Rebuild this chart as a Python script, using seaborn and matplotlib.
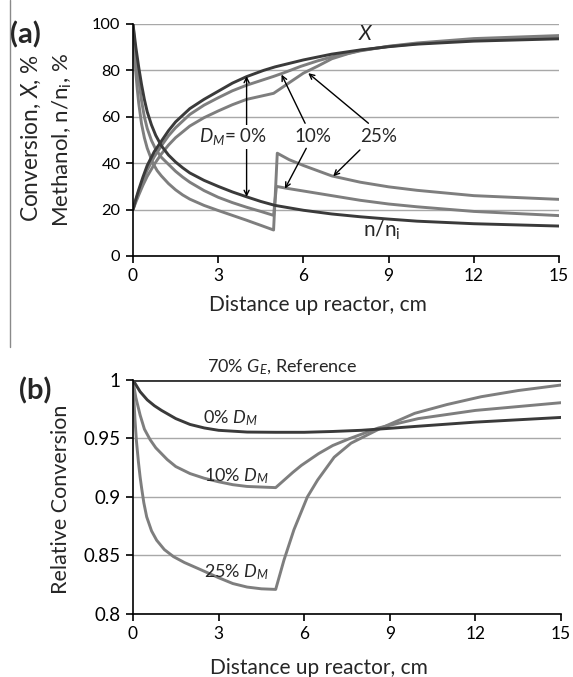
import numpy as np
import pandas as pd
import matplotlib
matplotlib.use("Agg")
import matplotlib.pyplot as plt
import seaborn as sns
from matplotlib.lines import Line2D

# ---------------- data: panel (a) ----------------
# Conversion X, %
x_X0 = [0, 0.1, 0.2, 0.35, 0.5, 0.75, 1, 1.25, 1.5, 2, 2.5, 3, 3.5, 4, 4.6, 5, 6, 7, 8, 9, 10, 12, 15]
X0 = [20, 24.5, 28.5, 34, 39, 45, 49.5, 54, 57.8, 63.5, 67.5, 71, 74.5, 77.3, 80, 81.5, 84.5, 87, 88.8, 90.2, 91.3, 92.6, 93.6]
x_X10 = [0, 0.1, 0.2, 0.35, 0.5, 0.75, 1, 1.25, 1.5, 2, 2.5, 3, 3.5, 4, 4.95, 5.3, 5.9, 6.5, 7, 7.6, 8, 9, 10, 12, 15]
X10 = [20, 24, 27.8, 32.5, 37, 42.8, 47.5, 51.8, 55.3, 61, 65, 68.2, 71.2, 73.6, 77.4, 78.9, 81.7, 84.1, 85.8, 87.4, 88.6, 90.3, 91.5, 93.2, 94.4]
x_X25 = [0, 0.1, 0.2, 0.35, 0.5, 0.75, 1, 1.25, 1.5, 2, 2.5, 3, 3.5, 4, 4.95, 5.3, 5.6, 6, 6.5, 7, 7.6, 8, 9, 10, 12, 15]
X25 = [20, 23.2, 26.2, 30.5, 34.3, 39.5, 44, 47.8, 51, 56, 59.6, 62.5, 65.2, 67.5, 70.1, 73, 75.5, 78.8, 81.8, 85, 87.3, 88.4, 90.4, 91.8, 93.7, 95.0]
# Methanol n/ni, %
x_n0 = [0, 0.05, 0.1, 0.2, 0.3, 0.4, 0.5, 0.65, 0.8, 1, 1.25, 1.5, 1.75, 2, 2.5, 3, 3.5, 4, 4.5, 5, 6, 7, 8, 9, 10, 12, 15]
n0 = [100, 95, 90, 81.5, 74, 67.5, 62.2, 56.5, 52, 47.5, 43.5, 40.5, 38, 35.8, 32.6, 30, 27.6, 25.5, 23.5, 21.8, 19.7, 18.1, 16.9, 15.9, 15, 13.9, 12.9]
x_n10 = [0, 0.05, 0.1, 0.2, 0.3, 0.4, 0.5, 0.65, 0.8, 1, 1.25, 1.5, 1.75, 2, 2.5, 3, 3.5, 4, 4.5, 4.95, 5.05, 5.4, 6, 7, 8, 9, 10, 12, 15]
n10 = [100, 93, 87, 76, 67, 60, 55, 49.8, 46, 42.5, 39.5, 36.5, 34, 31.8, 28.2, 25.3, 23, 21, 19.2, 17.5, 30, 29.2, 28, 26, 24, 22.4, 21.2, 19.2, 17.4]
x_n25 = [0, 0.05, 0.1, 0.15, 0.2, 0.3, 0.4, 0.5, 0.7, 0.85, 1, 1.25, 1.5, 1.75, 2, 2.5, 3, 3.5, 4, 4.5, 4.95, 5.08, 5.5, 6, 7, 8, 9, 10, 12, 15]
n25 = [100, 88, 79, 72, 66, 57, 51, 46.5, 40, 36.8, 34.5, 31.2, 28.5, 26.3, 24.5, 21.8, 19.6, 17.5, 15.4, 13.2, 11.2, 44.3, 41.5, 39, 34.5, 31.8, 29.8, 28.3, 26, 24.4]

# ---------------- data: panel (b) ----------------
x_ref = [0, 15]
rel_ref = [1, 1]
x_r0 = [0, 0.1, 0.25, 0.5, 0.75, 1, 1.5, 2, 2.5, 3, 4, 5, 6, 7, 8, 9, 10, 12, 15]
rel0 = [1, 0.996, 0.99, 0.983, 0.978, 0.974, 0.967, 0.962, 0.959, 0.957, 0.9555, 0.9553, 0.9553, 0.956, 0.957, 0.9587, 0.9605, 0.964, 0.968]
x_r10 = [0, 0.05, 0.1, 0.25, 0.4, 0.6, 0.8, 1, 1.2, 1.5, 2, 2.5, 3, 3.5, 4, 5, 5.3, 5.6, 5.9, 6.5, 7, 7.6, 8.6, 10, 12, 15]
rel10 = [1, 0.992, 0.985, 0.97, 0.958, 0.949, 0.942, 0.937, 0.932, 0.926, 0.92, 0.916, 0.913, 0.9105, 0.909, 0.908, 0.9145, 0.921, 0.927, 0.937, 0.944, 0.950, 0.959, 0.967, 0.974, 0.9806]
x_r25 = [0, 0.03, 0.07, 0.12, 0.19, 0.25, 0.3, 0.38, 0.48, 0.65, 0.83, 1.1, 1.42, 1.8, 2.36, 3, 3.5, 4, 4.5, 5, 5.29, 5.64, 6.11, 6.47, 7.05, 7.64, 8.7, 9.87, 11, 12.2, 13.5, 15]
rel25 = [1, 0.984, 0.966, 0.948, 0.93, 0.917, 0.908, 0.895, 0.883, 0.871, 0.863, 0.855, 0.849, 0.844, 0.838, 0.831, 0.826, 0.823, 0.8215, 0.821, 0.846, 0.872, 0.900, 0.9145, 0.934, 0.946, 0.959, 0.9715, 0.979, 0.9857, 0.991, 0.9957]

xticks = [0, 3, 6, 9, 12, 15]
yticks_a = [0, 20, 40, 60, 80, 100]
yticks_b = [0.8, 0.85, 0.9, 0.95, 1.0]
yticklabels_b = ["0.8", "0.85", "0.9", "0.95", "1"]

DARK = "#3a3a3a"
GRAY = "#7e7e7e"

sns.set_theme(style="white")
plt.rcParams["font.family"] = ["Lato", "DejaVu Sans"]
plt.rcParams["mathtext.fontset"] = "custom"
plt.rcParams["mathtext.rm"] = "Lato"
plt.rcParams["mathtext.it"] = "Lato:italic"

fig = plt.figure(figsize=(5.73, 6.77), dpi=100)
axA = fig.add_axes([0.2321, 0.6219, 0.7435, 0.3427])
axB = fig.add_axes([0.2321, 0.0931, 0.747, 0.3456])


def frame(df_list):
    return pd.concat([pd.DataFrame({"x": x, "y": y, "s": s}) for x, y, s in df_list], ignore_index=True)


dfa = frame([
    (x_n25, n25, "n25"), (x_n10, n10, "n10"), (x_X25, X25, "X25"), (x_X10, X10, "X10"),
    (x_n0, n0, "n0"), (x_X0, X0, "X0"),
])
pal_a = {"n25": GRAY, "n10": GRAY, "X25": GRAY, "X10": GRAY, "n0": DARK, "X0": DARK}
sns.lineplot(data=dfa, x="x", y="y", hue="s", units="s", palette=pal_a, estimator=None,
             sort=False, legend=False, lw=2.1, ax=axA)

dfb = frame([(x_r25, rel25, "r25"), (x_r10, rel10, "r10"), (x_r0, rel0, "r0"), (x_ref, rel_ref, "ref")])
pal_b = {"r25": GRAY, "r10": GRAY, "r0": DARK, "ref": DARK}
sns.lineplot(data=dfb, x="x", y="y", hue="s", units="s", palette=pal_b, estimator=None,
             sort=False, legend=False, lw=2.1, ax=axB)
for ln in axA.lines + axB.lines:
    ln.set_solid_joinstyle("round")

for ax in (axA, axB):
    ax.set_xlim(0, 15)
    ax.set_xticks(xticks)
    ax.set_xlabel("")
    ax.set_ylabel("")
    ax.grid(axis="y", color="#a8a8a8", lw=1.0)
    ax.grid(axis="x", visible=False)
    ax.set_axisbelow(True)
    for s in ("top", "right"):
        ax.spines[s].set_visible(False)
    for s in ("left", "bottom"):
        ax.spines[s].set_color("black")
        ax.spines[s].set_linewidth(1.2)
    ax.tick_params(bottom=True, left=True, direction="out", length=5, width=1.2,
                   color="black", labelcolor="black", pad=4)
    ax.tick_params(axis="x", labelsize=12.5)

axA.set_ylim(0, 100)
axA.set_yticks(yticks_a)
axA.tick_params(axis="y", labelsize=11.8)
axB.set_ylim(0.8, 1.0)
axB.set_yticks(yticks_b)
axB.set_yticklabels(yticklabels_b)
axB.tick_params(axis="y", labelsize=13.5)

# ---- panel (a) annotations ----
arrow = dict(arrowstyle="->", color="black", lw=1.0, shrinkA=0, shrinkB=0, mutation_scale=9)
axA.annotate("", xy=(4, 77.5), xytext=(4, 25.5),
             arrowprops=dict(arrowstyle="<->", color="black", lw=1.0, shrinkA=0, shrinkB=0, mutation_scale=9))
axA.text(3.52, 51.4, "$D_M$= 0%", ha="center", va="center", fontsize=13.5,
         bbox=dict(facecolor="white", edgecolor="none", pad=1))
axA.text(6.35, 51.4, "10%", ha="center", va="center", fontsize=13.5)
axA.text(8.64, 51.4, "25%", ha="center", va="center", fontsize=13.5)
axA.annotate("", xy=(5.23, 78.2), xytext=(6.06, 57.2), arrowprops=arrow)
axA.annotate("", xy=(5.35, 29.0), xytext=(6.1, 46.4), arrowprops=arrow)
axA.annotate("", xy=(6.17, 78.8), xytext=(8.29, 57.2), arrowprops=arrow)
axA.annotate("", xy=(7.05, 34.4), xytext=(7.99, 45.7), arrowprops=arrow)
axA.text(8.2, 95.5, "$X$", ha="center", va="center", fontsize=15)
axA.text(8.75, 11.0, "n/n$_\\mathregular{i}$", ha="center", va="center", fontsize=15)

# ---- panel (b) annotations ----
axB.text(5.23, 1.0105, "70% $G_E$, Reference", ha="center", va="center", fontsize=13, clip_on=False)
axB.text(3.4, 0.9675, "0% $D_M$", ha="center", va="center", fontsize=13)
axB.text(3.64, 0.9175, "10% $D_M$", ha="center", va="center", fontsize=13)
axB.text(3.64, 0.8355, "25% $D_M$", ha="center", va="center", fontsize=13)

# ---- figure texts ----
fig.text(0.054, 0.796, "Conversion, $X$, %", rotation=90, ha="center", va="center", fontsize=16.3)
fig.text(0.108, 0.793, "Methanol, n/n$_\\mathregular{i}$, %", rotation=90, ha="center", va="center", fontsize=16)
fig.text(0.554, 0.549, "Distance up reactor, cm", ha="center", va="center", fontsize=15)
fig.text(0.106, 0.262, "Relative Conversion", rotation=90, ha="center", va="center", fontsize=15.5)
fig.text(0.557, 0.014, "Distance up reactor, cm", ha="center", va="center", fontsize=15)
fig.text(0.044, 0.949, "(a)", ha="center", va="center", fontsize=21, fontweight="bold")
fig.text(0.062, 0.423, "(b)", ha="center", va="center", fontsize=21, fontweight="bold")
fig.add_artist(Line2D([0.0175, 0.0175], [1.0, 0.4875], transform=fig.transFigure, color="#8a8a8a", lw=1.0))

fig.savefig("out.png", dpi=100)
